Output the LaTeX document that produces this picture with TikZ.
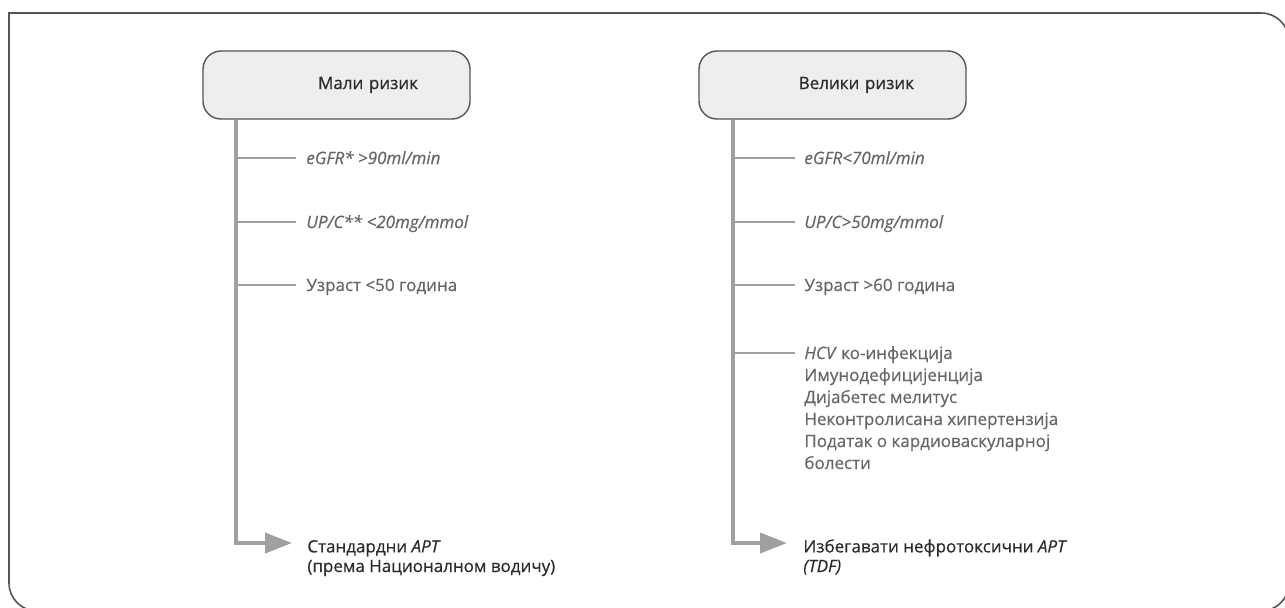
\documentclass[tikz,border=0pt]{standalone}
\usepackage{fontspec}
\setmainfont[FakeBold=0.5]{Open Sans}
\usepackage{xcolor}
\usetikzlibrary{arrows.meta,calc,positioning}
\definecolor{framegray}{HTML}{555555}
\definecolor{boxfill}{HTML}{EEEEEE}
\definecolor{trunkgray}{HTML}{A0A0A0}
\definecolor{itemgray}{HTML}{666666}
\definecolor{textdark}{HTML}{2B2B2B}
\tikzset{
	frame/.style={draw=framegray, line width=0.8pt},
	riskbox/.style={draw=framegray, line width=0.7pt, fill=boxfill, rounded corners=9pt,
			minimum height=34pt, text width=81.5pt, inner xsep=26pt, align=right,
			text=textdark, font=\fontsize{8.5}{11}\selectfont},
	trunk/.style={draw=trunkgray, line width=2pt, -{Triangle[length=13.5pt,width=10pt]}},
	branch/.style={draw=trunkgray, line width=1pt},
	item/.style={inner sep=0pt, anchor=base west, align=left, text=itemgray,
			font=\fontsize{8.5}{11}\selectfont},
	advice/.style={inner sep=0pt, anchor=base west, align=left, text=textdark,
			font=\fontsize{8.5}{9.8}\selectfont}
}

\begin{document}
\begin{tikzpicture}[x=0.5pt, y=-0.5pt]
		\useasboundingbox (0,0) rectangle (1285,607);

		% Frame
		\draw[frame] (600,611) [rounded corners=14pt] -| (9,300) [sharp corners] |- (600,13)
			[rounded corners=14pt] -| (1289,300) |- (600,611);

		% Low risk
		\node[riskbox] (low) at (336.5,85) {Мали ризик};
		\coordinate (lowtop) at ($(low.south west)+(17pt,0)$);
		\coordinate (lowend) at (292,543);
		\draw[trunk] (lowtop) |- (lowend);

		\node[item] (lowgfr) at (306,164) {\textit{eGFR* >90ml/min}};
		\node[item] (lowupc) at (306,228) {\textit{UP/C** <20mg/mmol}};
		\node[item] (lowage) at (306,291) {Узраст <50 година};
		\foreach \n in {lowgfr,lowupc,lowage}
			\draw[branch] (lowtop |- \n.base west) ++(0,3pt) -- ($(\n.base west)+(-5pt,3pt)$);

		\node[advice] (lowadv) at (307,572) {Стандардни \textit{APT}\\(према Националном водичу)};

		% High risk
		\node[riskbox] (high) at (832.5,85) {Велики ризик};
		\coordinate (hightop) at ($(high.south west)+(17.5pt,0)$);
		\coordinate (highend) at (787,543);
		\draw[trunk] (hightop) |- (highend);

		\node[item] (highgfr) at (804,164) {\textit{eGFR<70ml/min}};
		\node[item] (highupc) at (804,228) {\textit{UP/C>50mg/mmol}};
		\node[item] (highage) at (804,291) {Узраст >60 година};
		\foreach \n in {highgfr,highupc,highage}
			\draw[branch] (hightop |- \n.base west) ++(0,3pt) -- ($(\n.base west)+(-4.5pt,3pt)$);

		\node[item] (highhcv) at (804,469) {\textit{HCV} ко-инфекција\\Имунодефицијенција\\Дијабетес мелитус\\Неконтролисана хипертензија\\Податак о кардиоваскуларној\\болести};
		\coordinate (hcvline) at (795,353);
		\draw[branch] (hightop |- hcvline) -- (hcvline);

		\node[advice] (highadv) at (803,572) {Избегавати нефротоксични \textit{APT}\\\textit{(TDF)}};
	\end{tikzpicture}
\end{document}
